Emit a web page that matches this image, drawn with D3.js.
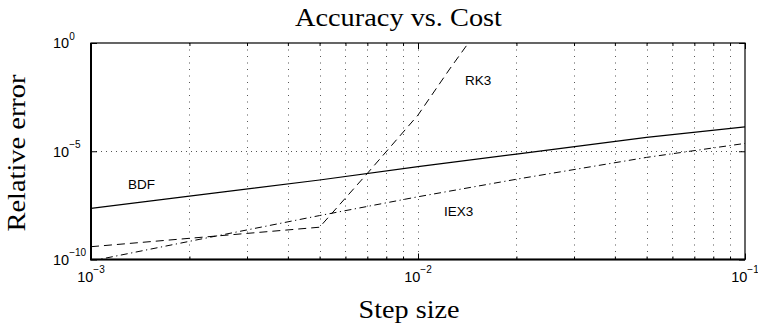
<!DOCTYPE html>
<html>
<head>
<meta charset="utf-8">
<script src="https://cdn.jsdelivr.net/npm/d3@7"></script>
<style>
body { margin: 0; background: #fff; }
svg { display: block; }
.tick-label { font-family: "Liberation Sans", Arial, sans-serif; font-size: 14.5px; fill: #000; }
.series-label { font-family: "Liberation Sans", Arial, sans-serif; font-size: 13.5px; fill: #000; }
.serif { font-family: "Liberation Serif", "Times New Roman", serif; font-size: 26px; fill: #000; }
</style>
</head>
<body>
<svg width="758" height="330"></svg>
<script>
// data
var stepBDF = [1e-3, 2e-3, 5e-3, 1e-2, 2e-2, 5e-2, 1e-1];
var errBDF = [2.3e-8, 8.5e-8, 4.7e-7, 1.95e-6, 7.4e-6, 4.4e-5, 1.35e-4];

var stepRK3 = [1e-3, 5e-3, 7e-3, 1e-2, 1.25e-2, 1.5e-2];
var errRK3 = [3.9e-10, 3.1e-9, 9.5e-7, 4.7e-4, 6.3e-2, 2.9];

var stepIEX3 = [1e-3, 2e-3, 5e-3, 1e-2, 2e-2, 5e-2, 1e-1];
var errIEX3 = [8.5e-11, 6.9e-10, 1.07e-8, 7.9e-8, 5.1e-7, 5.2e-6, 2.3e-5];

var xMajor = [1e-3, 1e-2, 1e-1];
var xMajorExp = ["\u22123", "\u22122", "\u22121"];
var xMinor = [2e-3, 3e-3, 4e-3, 5e-3, 6e-3, 7e-3, 8e-3, 9e-3, 2e-2, 3e-2, 4e-2, 5e-2, 6e-2, 7e-2, 8e-2, 9e-2];
var yMajor = [1e0, 1e-5, 1e-10];
var yMajorExp = ["0", "\u22125", "\u221210"];

var svg = d3.select("svg");

var pl = 91, pr = 745, pt = 43, pb = 259.5;

var x = d3.scaleLog().domain([1e-3, 1e-1]).range([pl, pr]);
var y = d3.scaleLog().domain([1e-10, 1]).range([pb, pt]);

svg.append("clipPath").attr("id", "plot-clip")
  .append("rect")
  .attr("x", pl).attr("y", pt)
  .attr("width", pr - pl).attr("height", pb - pt);

// grid
var grid = svg.append("g");
grid.selectAll("line.vx")
  .data(xMinor.concat([1e-2]))
  .enter().append("line")
  .attr("class", "vx")
  .attr("x1", function (d) { return Math.round(x(d)) + 0.5; })
  .attr("x2", function (d) { return Math.round(x(d)) + 0.5; })
  .attr("y1", pt).attr("y2", pb)
  .attr("stroke", "#555").attr("stroke-width", 1)
  .attr("stroke-dasharray", "1,5.5");

grid.append("line")
  .attr("x1", pl).attr("x2", pr)
  .attr("y1", Math.round(y(1e-5)) + 0.5).attr("y2", Math.round(y(1e-5)) + 0.5)
  .attr("stroke", "#555").attr("stroke-width", 1)
  .attr("stroke-dasharray", "1,4");

// ticks (inward)
function ticks(axis, tx, ty) {
  var g = svg.append("g").attr("transform", "translate(" + tx + "," + ty + ")").call(axis);
  g.select(".domain").remove();
  g.selectAll(".tick line").attr("stroke", "#000");
  g.selectAll(".tick text").remove();
}
ticks(d3.axisBottom(x).tickValues(xMajor).tickSizeInner(-6).tickSizeOuter(0), 0, pb);
ticks(d3.axisBottom(x).tickValues(xMinor).tickSizeInner(-3).tickSizeOuter(0), 0, pb);
ticks(d3.axisTop(x).tickValues(xMajor).tickSizeInner(-6).tickSizeOuter(0), 0, pt);
ticks(d3.axisTop(x).tickValues(xMinor).tickSizeInner(-3).tickSizeOuter(0), 0, pt);
ticks(d3.axisLeft(y).tickValues(yMajor).tickSizeInner(-6).tickSizeOuter(0), pl, 0);
ticks(d3.axisRight(y).tickValues(yMajor).tickSizeInner(-6).tickSizeOuter(0), pr, 0);

// frame
svg.append("rect")
  .attr("x", pl).attr("y", pt)
  .attr("width", pr - pl).attr("height", pb - pt)
  .attr("fill", "none").attr("stroke", "#000").attr("stroke-width", 1.2);
svg.append("path")
  .attr("d", "M" + pl + "," + pt + "V" + pb + "H" + pr)
  .attr("fill", "none").attr("stroke", "#000").attr("stroke-width", 2);

// series
var line = d3.line()
  .x(function (d) { return x(d[0]); })
  .y(function (d) { return y(d[1]); });

var plot = svg.append("g").attr("clip-path", "url(#plot-clip)");

plot.append("path")
  .datum(d3.zip(stepBDF, errBDF))
  .attr("d", line)
  .attr("fill", "none").attr("stroke", "#000").attr("stroke-width", 1.2);

plot.append("path")
  .datum(d3.zip(stepRK3, errRK3))
  .attr("d", line)
  .attr("fill", "none").attr("stroke", "#000").attr("stroke-width", 1)
  .attr("stroke-dasharray", "8,5");

plot.append("path")
  .datum(d3.zip(stepIEX3, errIEX3))
  .attr("d", line)
  .attr("fill", "none").attr("stroke", "#000").attr("stroke-width", 1)
  .attr("stroke-dasharray", "7,3.5,1.2,3.5");

// series labels
svg.append("text").attr("class", "series-label").attr("x", 128).attr("y", 189).text("BDF");
svg.append("text").attr("class", "series-label").attr("x", 465).attr("y", 85).text("RK3");
svg.append("text").attr("class", "series-label").attr("x", 444).attr("y", 215.5).text("IEX3");

// tick labels
var xl = svg.selectAll("text.xl")
  .data(xMajor)
  .enter().append("text")
  .attr("class", "tick-label xl")
  .attr("text-anchor", "middle")
  .attr("x", function (d) { return x(d); })
  .attr("y", 281.5);
xl.append("tspan").text("10");
xl.append("tspan")
  .attr("dy", -9).attr("font-size", "10px")
  .text(function (d, i) { return xMajorExp[i]; });

var yl = svg.selectAll("text.yl")
  .data(yMajor)
  .enter().append("text")
  .attr("class", "tick-label yl")
  .attr("x", 53)
  .attr("y", function (d) { return y(d) + 5.3; });
yl.append("tspan").text("10");
yl.append("tspan")
  .attr("dy", -8.5).attr("font-size", "10px")
  .text(function (d, i) { return yMajorExp[i]; });

// titles
svg.append("text").attr("class", "serif")
  .attr("x", 398.5).attr("y", 26).attr("text-anchor", "middle")
  .attr("textLength", 207).attr("lengthAdjust", "spacingAndGlyphs")
  .text("Accuracy vs. Cost");

svg.append("text").attr("class", "serif")
  .attr("x", 409).attr("y", 318).attr("text-anchor", "middle")
  .attr("textLength", 101).attr("lengthAdjust", "spacingAndGlyphs")
  .text("Step size");

svg.append("text").attr("class", "serif")
  .attr("transform", "translate(25,153) rotate(-90)")
  .attr("text-anchor", "middle")
  .attr("textLength", 157).attr("lengthAdjust", "spacingAndGlyphs")
  .text("Relative error");
</script>
</body>
</html>
